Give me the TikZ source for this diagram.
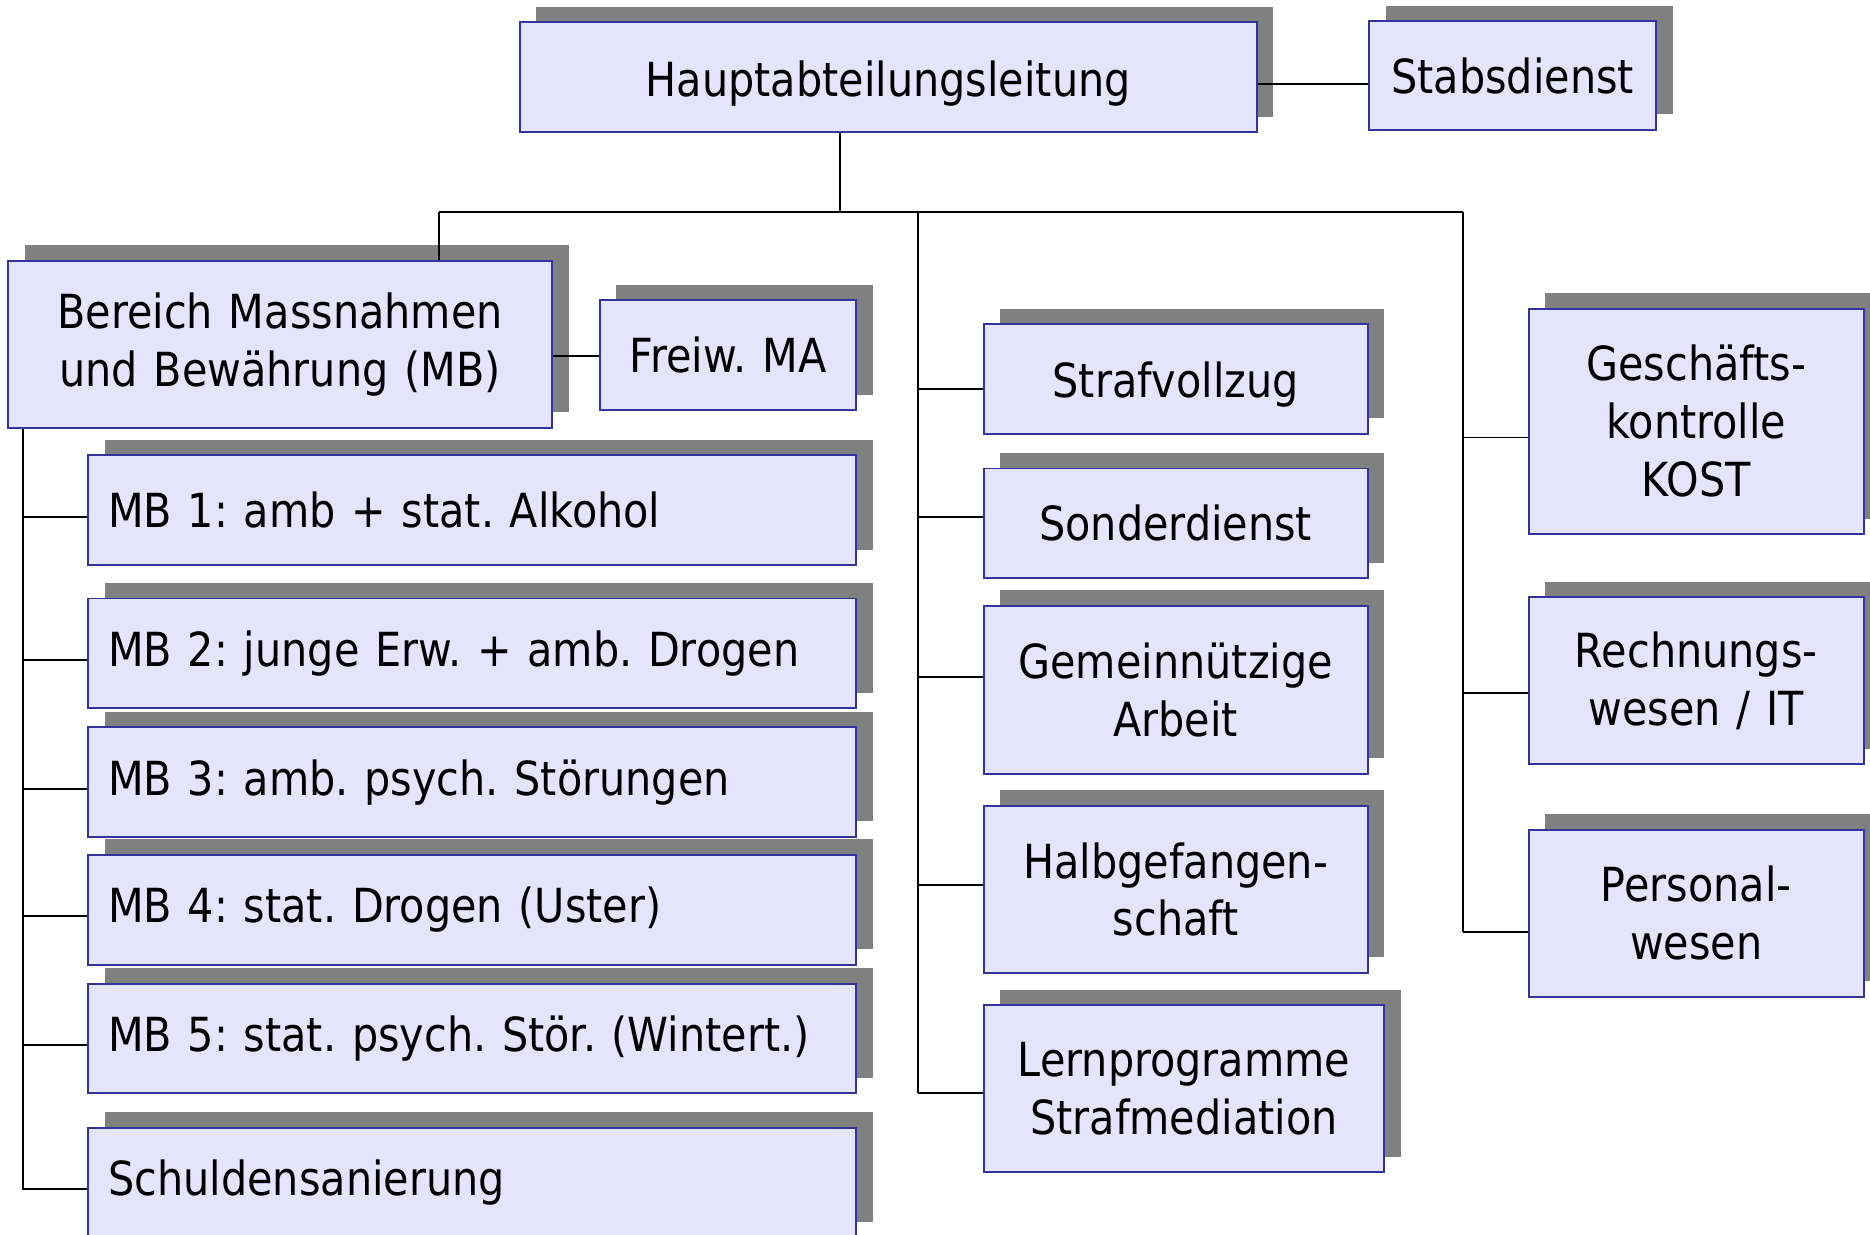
\documentclass[tikz,border=0pt]{standalone}
\usepackage{fontspec}
\setmainfont{DejaVu Sans}[FakeStretch=0.88, WordSpace=1.22]
\usetikzlibrary{shadows,calc}
\definecolor{boxfill}{RGB}{230,228,252}
\definecolor{boxdraw}{RGB}{51,51,153}
\definecolor{shadowgray}{RGB}{128,128,128}
\frenchspacing
\newcommand{\boxfont}{\fontsize{19.7}{24.3}\selectfont\frenchspacing}
\newcommand{\lowertext}[1]{\raisebox{-2.5pt}[\height][\depth]{#1}}
\begin{document}
\begin{tikzpicture}[x=0.5pt,y=-0.5pt,
  box/.style={draw=boxdraw, line width=0.8pt, fill=boxfill, inner sep=0pt,
    align=center, anchor=north west,
    general shadow={fill=shadowgray, shadow xshift=7pt, shadow yshift=6.5pt},
    font=\boxfont},
  mbbox/.style={box, align=left, inner xsep=8.5pt, text width=305pt,
    minimum width=322pt, minimum height=46pt},
  midbox/.style={box, minimum width=161pt},
  rbox/.style={box, minimum width=140.5pt},
  wire/.style={line width=0.8pt, black}]
\useasboundingbox (0,0) rectangle (1568,1035);
\clip (0,0) rectangle (1568,1035);

% top
\node[box, minimum width=309pt, minimum height=46pt] (hal) at (435,18) {\lowertext{Hauptabteilungsleitung}};
\node[box, minimum width=120.5pt, minimum height=45.5pt] (stab) at (1147,17) {Stabsdienst};

% left branch
\node[box, minimum width=228pt, minimum height=70pt] (bmb) at (6,218) {Bereich Massnahmen\\und Bewährung (MB)};
\node[box, minimum width=107.5pt, minimum height=46pt] (freiw) at (502,251) {Freiw. MA};
\node[mbbox] (mb1) at (73,381) {\mbox{MB 1: amb + stat. Alkohol}};
\node[mbbox] (mb2) at (73,501) {\mbox{MB 2: junge Erw. + amb. Drogen}};
\node[mbbox] (mb3) at (73,609) {\mbox{MB 3: amb. psych. Störungen}};
\node[mbbox] (mb4) at (73,716) {\mbox{MB 4: stat. Drogen (Uster)}};
\node[mbbox] (mb5) at (73,824) {\mbox{MB 5: stat. psych. Stör. (Wintert.)}};
\node[mbbox] (sch) at (73,945) {\mbox{Schuldensanierung}};

% middle column
\node[midbox, minimum height=46pt] (sv) at (824,271) {\lowertext{Strafvollzug}};
\node[midbox, minimum height=46pt] (sd) at (824,392) {Sonderdienst};
\node[midbox, minimum height=70.5pt] (ga) at (824,507) {Gemeinnützige\\Arbeit};
\node[midbox, minimum height=70pt] (hg) at (824,675) {Halbgefangen-\\schaft};
\node[box, minimum width=168pt, minimum height=70pt] (lp) at (824,842) {Lernprogramme\\Strafmediation};

% right column
\node[rbox, minimum height=94.5pt] (gk) at (1281,258) {Geschäfts-\\kontrolle\\KOST};
\node[rbox, minimum height=70pt] (rw) at (1281,500) {Rechnungs-\\wesen / IT};
\node[rbox, minimum height=70pt] (pw) at (1281,695) {Personal-\\wesen};

% connector coordinates
\coordinate (drop) at (704,178);
\coordinate (busL) at (368,178);
\coordinate (busR) at (1227,178);
\coordinate (midT) at (770,178);
\coordinate (spine) at (19,358);

% connectors
\draw[wire] ($(hal.east)+(0,6)$) -- ($(stab.west |- hal.east)+(0,6)$);
\draw[wire] (drop |- hal.south) -- (drop);
\draw[wire] (busL) -- (busR);
\draw[wire] (busL) -- (busL |- bmb.north);
\draw[wire] ($(bmb.east)+(0,10)$) -- ($(freiw.west |- bmb.east)+(0,10)$);

\draw[wire] (spine |- bmb.south) -- ($(spine |- sch.west)+(0,6)$);
\foreach \n in {mb1,mb2,mb3,mb4,mb5,sch}
  \draw[wire] ($(spine |- \n.west)+(0,5.5)$) -- ($(\n.west)+(0,5.5)$);

\draw[wire] (midT) -- ($(midT |- lp.west)+(0,4)$);
\draw[wire] ($(midT |- sv.west)+(0,8)$) -- ($(sv.west)+(0,8)$);
\draw[wire] ($(midT |- sd.west)+(0,-5)$) -- ($(sd.west)+(0,-5)$);
\draw[wire] ($(midT |- ga.west)+(0,-10.5)$) -- ($(ga.west)+(0,-10.5)$);
\draw[wire] ($(midT |- hg.west)+(0,-4)$) -- ($(hg.west)+(0,-4)$);
\draw[wire] ($(midT |- lp.west)+(0,4)$) -- ($(lp.west)+(0,4)$);

\draw[wire] (busR) -- ($(busR |- pw.west)+(0,16)$);
\draw[wire] ($(busR |- gk.west)+(0,13.5)$) -- ($(gk.west)+(0,13.5)$);
\draw[wire] ($(busR |- rw.west)+(0,10)$) -- ($(rw.west)+(0,10)$);
\draw[wire] ($(busR |- pw.west)+(0,16)$) -- ($(pw.west)+(0,16)$);
\end{tikzpicture}
\end{document}
